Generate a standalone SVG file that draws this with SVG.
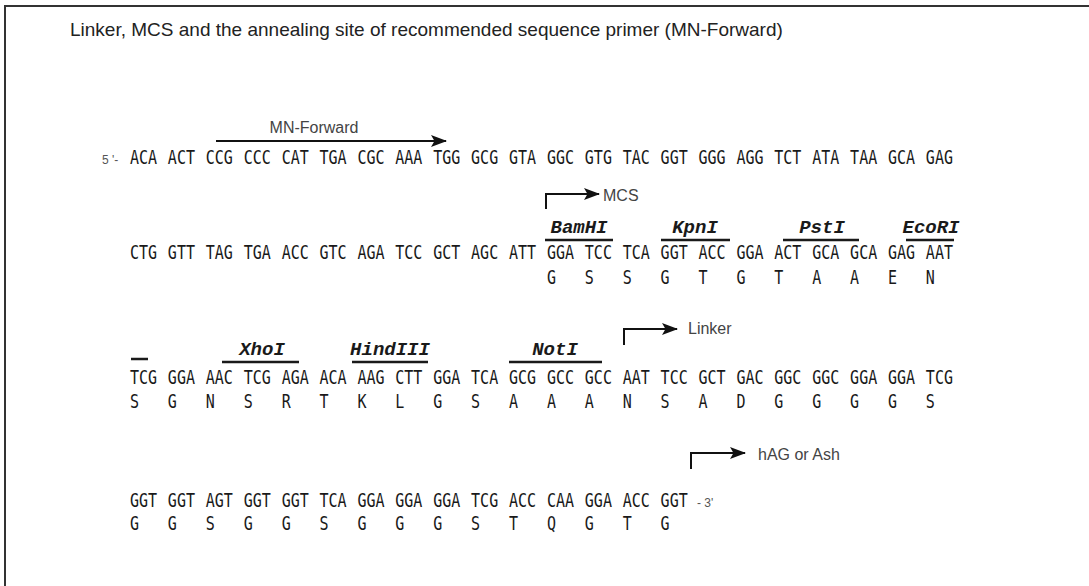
<svg xmlns="http://www.w3.org/2000/svg" width="1089" height="586" viewBox="0 0 1089 586">
<defs>
<style>
.seq{font-family:"DejaVu Sans Mono","Liberation Mono",monospace;font-size:19px;fill:#1a1a1a}
.enz{font-family:"Liberation Mono","Courier New",monospace;font-size:19px;font-weight:bold;font-style:italic;fill:#1a1a1a;text-anchor:middle}
.lbl{font-family:"Liberation Sans",Arial,sans-serif;font-size:16px;fill:#444}
.end{font-family:"Liberation Sans",Arial,sans-serif;font-size:12px;fill:#555}
.ovl{stroke:#1a1a1a;stroke-width:2.5;fill:none}
.arr{stroke:#111;stroke-width:2;fill:none;marker-end:url(#ah)}
.frame{stroke:#333;stroke-width:2;fill:none}
</style>
<marker id="ah" viewBox="0 0 16 12" markerWidth="16" markerHeight="12" refX="15" refY="6" orient="auto" markerUnits="userSpaceOnUse">
<path d="M0,0 L16,6 L0,12 L3.5,6 z" fill="#111"/>
</marker>
</defs>
<rect width="1089" height="586" fill="#fff"/>
<path class="frame" d="M5,586 V6 H1089"/>
<text id="title" x="70" y="36" style="font-family:'Liberation Sans',Arial,sans-serif;font-size:19px;fill:#222">Linker, MCS and the annealing site of recommended sequence primer (MN-Forward)</text>

<g id="row1">
<text class="end" x="102" y="164">5 '-</text>
<g transform="scale(0.79,1)">
<text class="seq" y="164"><tspan x="164.6">ACA</tspan><tspan x="212.5">ACT</tspan><tspan x="260.5">CCG</tspan><tspan x="308.5">CCC</tspan><tspan x="356.5">CAT</tspan><tspan x="404.4">TGA</tspan><tspan x="452.4">CGC</tspan><tspan x="500.4">AAA</tspan><tspan x="548.4">TGG</tspan><tspan x="596.3">GCG</tspan><tspan x="644.3">GTA</tspan><tspan x="692.3">GGC</tspan><tspan x="740.3">GTG</tspan><tspan x="788.2">TAC</tspan><tspan x="836.2">GGT</tspan><tspan x="884.2">GGG</tspan><tspan x="932.2">AGG</tspan><tspan x="980.1">TCT</tspan><tspan x="1028.1">ATA</tspan><tspan x="1076.1">TAA</tspan><tspan x="1124.1">GCA</tspan><tspan x="1172">GAG</tspan></text>
</g>
</g>

<g id="row2" transform="scale(0.79,1)">
<text class="seq" y="259"><tspan x="164.6">CTG</tspan><tspan x="212.5">GTT</tspan><tspan x="260.5">TAG</tspan><tspan x="308.5">TGA</tspan><tspan x="356.5">ACC</tspan><tspan x="404.4">GTC</tspan><tspan x="452.4">AGA</tspan><tspan x="500.4">TCC</tspan><tspan x="548.4">GCT</tspan><tspan x="596.3">AGC</tspan><tspan x="644.3">ATT</tspan><tspan x="692.3">GGA</tspan><tspan x="740.3">TCC</tspan><tspan x="788.2">TCA</tspan><tspan x="836.2">GGT</tspan><tspan x="884.2">ACC</tspan><tspan x="932.2">GGA</tspan><tspan x="980.1">ACT</tspan><tspan x="1028.1">GCA</tspan><tspan x="1076.1">GCA</tspan><tspan x="1124.1">GAG</tspan><tspan x="1172">AAT</tspan></text>
<text class="seq" y="284"><tspan x="692.3">G</tspan><tspan x="740.3">S</tspan><tspan x="788.2">S</tspan><tspan x="836.2">G</tspan><tspan x="884.2">T</tspan><tspan x="932.2">G</tspan><tspan x="980.1">T</tspan><tspan x="1028.1">A</tspan><tspan x="1076.1">A</tspan><tspan x="1124.1">E</tspan><tspan x="1172">N</tspan></text>
</g>

<g id="row3" transform="scale(0.79,1)">
<text class="seq" y="384"><tspan x="164.6">TCG</tspan><tspan x="212.5">GGA</tspan><tspan x="260.5">AAC</tspan><tspan x="308.5">TCG</tspan><tspan x="356.5">AGA</tspan><tspan x="404.4">ACA</tspan><tspan x="452.4">AAG</tspan><tspan x="500.4">CTT</tspan><tspan x="548.4">GGA</tspan><tspan x="596.3">TCA</tspan><tspan x="644.3">GCG</tspan><tspan x="692.3">GCC</tspan><tspan x="740.3">GCC</tspan><tspan x="788.2">AAT</tspan><tspan x="836.2">TCC</tspan><tspan x="884.2">GCT</tspan><tspan x="932.2">GAC</tspan><tspan x="980.1">GGC</tspan><tspan x="1028.1">GGC</tspan><tspan x="1076.1">GGA</tspan><tspan x="1124.1">GGA</tspan><tspan x="1172">TCG</tspan></text>
<text class="seq" y="408"><tspan x="164.6">S</tspan><tspan x="212.5">G</tspan><tspan x="260.5">N</tspan><tspan x="308.5">S</tspan><tspan x="356.5">R</tspan><tspan x="404.4">T</tspan><tspan x="452.4">K</tspan><tspan x="500.4">L</tspan><tspan x="548.4">G</tspan><tspan x="596.3">S</tspan><tspan x="644.3">A</tspan><tspan x="692.3">A</tspan><tspan x="740.3">A</tspan><tspan x="788.2">N</tspan><tspan x="836.2">S</tspan><tspan x="884.2">A</tspan><tspan x="932.2">D</tspan><tspan x="980.1">G</tspan><tspan x="1028.1">G</tspan><tspan x="1076.1">G</tspan><tspan x="1124.1">G</tspan><tspan x="1172">S</tspan></text>
</g>

<g id="row4">
<g transform="scale(0.79,1)">
<text class="seq" y="507"><tspan x="164.6">GGT</tspan><tspan x="212.5">GGT</tspan><tspan x="260.5">AGT</tspan><tspan x="308.5">GGT</tspan><tspan x="356.5">GGT</tspan><tspan x="404.4">TCA</tspan><tspan x="452.4">GGA</tspan><tspan x="500.4">GGA</tspan><tspan x="548.4">GGA</tspan><tspan x="596.3">TCG</tspan><tspan x="644.3">ACC</tspan><tspan x="692.3">CAA</tspan><tspan x="740.3">GGA</tspan><tspan x="788.2">ACC</tspan><tspan x="836.2">GGT</tspan></text>
<text class="seq" y="530"><tspan x="164.6">G</tspan><tspan x="212.5">G</tspan><tspan x="260.5">S</tspan><tspan x="308.5">G</tspan><tspan x="356.5">G</tspan><tspan x="404.4">S</tspan><tspan x="452.4">G</tspan><tspan x="500.4">G</tspan><tspan x="548.4">G</tspan><tspan x="596.3">S</tspan><tspan x="644.3">T</tspan><tspan x="692.3">Q</tspan><tspan x="740.3">G</tspan><tspan x="788.2">T</tspan><tspan x="836.2">G</tspan></text>
</g>
<text class="end" x="697" y="507">- 3'</text>
</g>

<g id="enzymes">
<g id="BamHI"><text class="enz" x="579" y="233">BamHI</text><line class="ovl" x1="545" y1="240" x2="613" y2="240"/></g>
<g id="KpnI"><text class="enz" x="695" y="233">KpnI</text><line class="ovl" x1="661" y1="240" x2="730" y2="240"/></g>
<g id="PstI"><text class="enz" x="822" y="233">PstI</text><line class="ovl" x1="783" y1="240" x2="859" y2="240"/></g>
<g id="EcoRI"><text class="enz" x="931" y="233">EcoRI</text><line class="ovl" x1="906" y1="240" x2="954" y2="240"/><line class="ovl" x1="131" y1="359" x2="148" y2="359"/></g>
<g id="XhoI"><text class="enz" x="262" y="355">XhoI</text><line class="ovl" x1="222" y1="362" x2="299" y2="362"/></g>
<g id="HindIII"><text class="enz" x="390" y="355">HindIII</text><line class="ovl" x1="352" y1="362" x2="428" y2="362"/></g>
<g id="NotI"><text class="enz" x="555" y="355">NotI</text><line class="ovl" x1="509" y1="362" x2="602" y2="362"/></g>
</g>

<g id="labels">
<text class="lbl" x="314" y="133" text-anchor="middle">MN-Forward</text>
<text class="lbl" x="603" y="201">MCS</text>
<text class="lbl" x="688" y="334">Linker</text>
<text class="lbl" x="758" y="460">hAG or Ash</text>
</g>

<g id="connectors">
<line class="arr" x1="216" y1="141" x2="446" y2="141"/>
<path class="arr" d="M546,209 V194 H599"/>
<path class="arr" d="M624,345 V329 H677"/>
<path class="arr" d="M691,469 V453 H745"/>
</g>
</svg>
